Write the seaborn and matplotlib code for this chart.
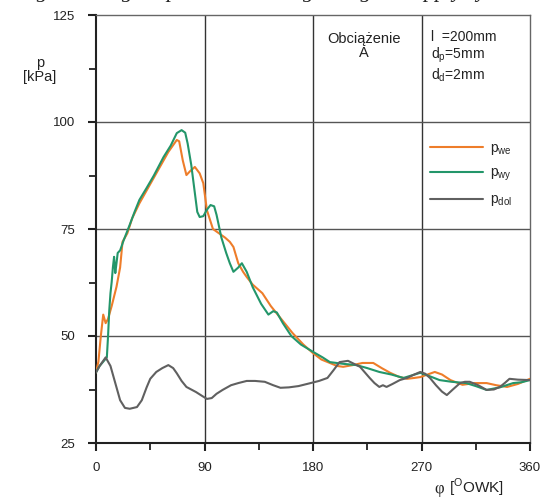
import numpy as np
import pandas as pd
import matplotlib
matplotlib.use("Agg")
import matplotlib.pyplot as plt
import seaborn as sns
from matplotlib.ticker import MultipleLocator

sns.set_style("white")
plt.rcParams['font.family'] = ['Liberation Sans', 'DejaVu Sans']
plt.rcParams['mathtext.fontset'] = 'custom'
plt.rcParams['mathtext.rm'] = 'Liberation Sans'

series_names = ["p$_{\\mathrm{we}}$", "p$_{\\mathrm{wy}}$", "p$_{\\mathrm{dol}}$"]

x_we = [0, 2, 4, 6, 8, 10, 13, 17, 20, 22, 26, 30, 36, 42, 48, 53, 60, 67, 69, 72, 75, 78, 82, 86, 89, 92,
        97, 102, 107, 111, 114, 118, 122, 125, 130, 138, 145, 153, 163, 172, 180, 187, 194, 200, 205, 213,
        221, 230, 237, 244, 251, 258, 264, 269, 275, 281, 287, 294, 304, 314, 324, 332, 341, 350, 360]
y_we = [41.5, 44, 50, 55, 53, 54, 57, 61.5, 66, 72, 74, 77.5, 81, 84, 87, 89.5, 93, 95.8, 95.5, 91, 87.6,
        88.5, 89.5, 88, 85.7, 79.4, 75, 74, 73, 72, 70.8, 67, 65, 63.8, 62, 60, 57, 54.2, 50.7, 48, 46,
        44.5, 43.7, 43, 42.8, 43.2, 43.7, 43.7, 42.5, 41.4, 40.5, 40, 40.2, 40.4, 41, 41.6, 41, 39.7,
        38.6, 39, 39, 38.5, 38.1, 38.8, 40]

x_wy = [0, 3, 6, 9, 10, 11, 12, 13, 14, 15, 16, 17, 18, 20, 23, 28, 32, 36, 42, 48, 56, 62, 67, 71, 74,
        76, 79, 82, 84, 86, 89, 92, 95, 98, 100, 104, 108, 111, 114, 118, 121, 125, 130, 137, 143, 147,
        150, 155, 162, 170, 180, 188, 194, 205, 216, 225, 235, 245, 255, 262, 269, 275, 285, 295, 307,
        315, 324, 335, 346, 353, 360]
y_wy = [41.5, 43, 44, 45, 50, 56, 60, 62.6, 66, 68.5, 64.7, 67, 69.4, 70, 72.4, 76, 79, 81.8, 84.6, 87.5,
        91.8, 94.5, 97.4, 98.1, 97.5, 95, 90, 83.4, 79, 77.8, 78, 79.5, 80.6, 80.3, 78.3, 73, 69.4, 67,
        65, 66, 67, 65, 61.4, 57.5, 55, 55.8, 55.5, 53, 50, 48, 46.3, 45, 43.9, 43.5, 43.2, 42.5, 41.6,
        41, 40.2, 40.8, 41.4, 40.8, 39.7, 39.3, 39, 38.3, 37.4, 38, 39, 39.2, 39.7]

x_dol = [0, 3, 8, 12, 16, 20, 24, 28, 34, 38, 42, 45, 50, 55, 60, 64, 67, 71, 75, 79, 83, 88, 92, 96, 100,
         105, 112, 118, 125, 132, 140, 147, 153, 160, 168, 178, 185, 192, 197, 202, 209, 214, 219, 223,
         227, 231, 235, 238, 241, 246, 252, 258, 264, 269, 273, 277, 282, 287, 291, 296, 302, 306, 310,
         317, 324, 330, 335, 339, 343, 350, 360]
y_dol = [41.5, 43, 45, 43, 39, 35, 33.2, 33, 33.4, 35, 38, 40, 41.6, 42.5, 43.2, 42.5, 41.3, 39.5, 38.1,
         37.5, 36.9, 36, 35.3, 35.5, 36.5, 37.4, 38.5, 39, 39.5, 39.5, 39.3, 38.5, 37.9, 38, 38.3, 39,
         39.5, 40.2, 42, 43.9, 44.2, 43.5, 42.8, 41.5, 40.2, 39, 38.1, 38.5, 38.1, 38.8, 39.7, 40.2, 41,
         41.6, 41.2, 40.2, 38.5, 37, 36.2, 37.5, 39, 39.3, 39.3, 38.5, 37.4, 37.5, 38.1, 39, 40, 39.8, 39.7]

x_ticks = [0, 90, 180, 270, 360]
y_ticks = [25, 50, 75, 100, 125]

frames = []
for name, xs, ys in zip(series_names, [x_we, x_wy, x_dol], [y_we, y_wy, y_dol]):
    frames.append(pd.DataFrame({"phi": xs, "p": ys, "series": name}))
df = pd.concat(frames, ignore_index=True)

palette = {series_names[0]: "#ee7d2a", series_names[1]: "#23966a", series_names[2]: "#606060"}

fig = plt.figure(figsize=(5.44, 4.99), dpi=100)
ax = fig.add_axes([96 / 544, 1 - 443 / 499, (530 - 96) / 544, (443 - 15) / 499])

sns.lineplot(data=df, x="phi", y="p", hue="series", palette=palette, sort=False,
             estimator=None, linewidth=1.5, ax=ax, zorder=3)
for ln in ax.get_lines():
    ln.set_solid_joinstyle("round")

ax.set_xlim(0, 360)
ax.set_ylim(25, 125)
ax.set_xticks(x_ticks)
ax.set_yticks(y_ticks)
ax.xaxis.set_minor_locator(MultipleLocator(45))
ax.yaxis.set_minor_locator(MultipleLocator(12.5))
ax.tick_params(axis="both", which="both", bottom=True, left=True, top=False, right=False)
ax.tick_params(axis="both", which="major", direction="out", length=6, width=1.5,
               labelsize=9.5, color="#222222", labelcolor="#222222")
ax.tick_params(axis="both", which="minor", direction="out", length=5, width=1.3, color="#222222")
ax.tick_params(axis="x", which="major", pad=8)
ax.tick_params(axis="y", which="major", pad=9)

for v in x_ticks[1:-1]:
    ax.axvline(v, color="#333333", linewidth=1.0, zorder=1)
for v in y_ticks[1:-1]:
    ax.axhline(v, color="#555555", linewidth=1.0, zorder=1)

for side in ["left", "bottom"]:
    ax.spines[side].set_color("#222222")
    ax.spines[side].set_linewidth(1.5)
for side in ["top", "right"]:
    ax.spines[side].set_color("#666666")
    ax.spines[side].set_linewidth(1.0)

ax.set_xlabel("")
ax.set_ylabel("")

leg = ax.legend(loc="upper left", bbox_to_anchor=((430 - 96) / 434, 1 - (141 - 15) / 428),
                frameon=False, fontsize=10, handlelength=3.8, handletextpad=0.5,
                labelspacing=0.65, borderaxespad=0, borderpad=0)
for line in leg.get_lines():
    line.set_linewidth(1.5)

fig.text(40 / 544, 1 - 70 / 499, "p\n[kPa]", ha="center", va="center", fontsize=10.5,
         color="#222222", linespacing=1.0)
fig.text(444 / 544, 1 - 489 / 499, "φ", ha="right", va="center", fontsize=12,
         family="Liberation Serif", color="#222222")
fig.text(449 / 544, 1 - 488 / 499, "[$^{\\mathrm{O}}$OWK]", ha="left", va="center",
         fontsize=11, color="#222222")

fig.text(364 / 544, 1 - 46 / 499, "Obciążenie\nA", ha="center", va="center", fontsize=10.5,
         color="#222222", linespacing=1.0)
fig.text(431 / 544, 1 - 57 / 499, "l  =200mm\nd$_{\\mathrm{p}}$=5mm\nd$_{\\mathrm{d}}$=2mm", ha="left",
         va="center", fontsize=10, color="#222222", linespacing=1.15)

fig.text(0.5, 1 + 3 / 499, "Figure 4. Signal pressure in the gas engine supply system", ha="center",
         va="baseline", fontsize=16, style="italic", family="Liberation Serif", color="#222222")

fig.savefig("out.png", dpi=100)
